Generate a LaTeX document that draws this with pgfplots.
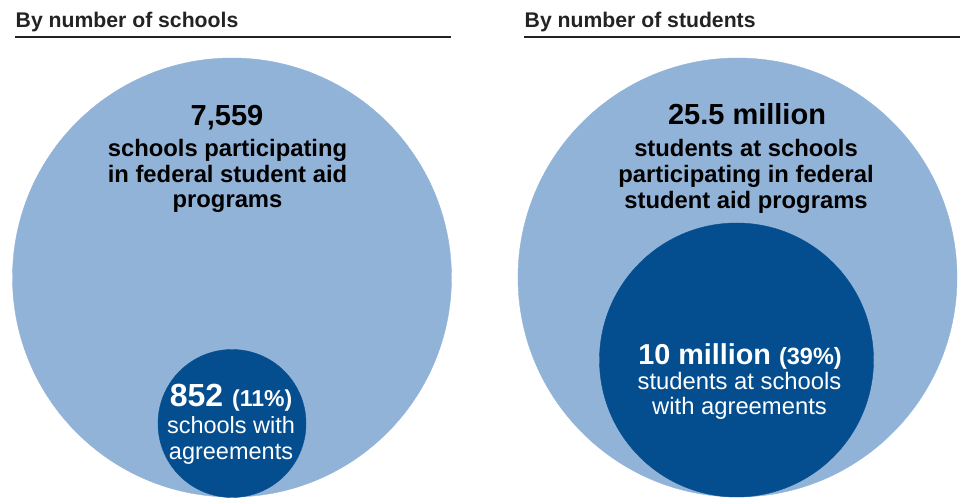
\documentclass[border=0pt]{standalone}
\usepackage{pgfplots}
\pgfplotsset{compat=1.18}
\usepackage{fontspec}
\setmainfont{Liberation Sans}

\definecolor{lightblue}{RGB}{146,179,216}
\definecolor{darkblue}{RGB}{4,78,143}
\definecolor{titlegray}{RGB}{35,35,35}

% circles: centre (x,y) and radius r, in px (y measured from the top)
\pgfplotstableread{
x     y      r
232   277.5  219.5
737.5 277.5  219.5
}\totals
\pgfplotstableread{
x     y      r
232   423.5  74
736.5 360    137
}\subsets

\newcommand\fs[1]{\fontsize{#1}{#1}\selectfont}

\begin{document}
\begin{tikzpicture}
\begin{axis}[
    width=965pt, height=500pt, scale only axis,
    xmin=0, xmax=965, ymin=0, ymax=500,
    y dir=reverse,
    hide axis, clip=false, set layers,
    circle plot/.style={
        scatter, only marks, mark=*,
        scatter/use mapped color={draw=#1, fill=#1},
        visualization depends on={\thisrow{r}\as\rad},
        scatter/@pre marker code/.append style={/tikz/mark size=\rad pt, /tikz/line width=0.1pt},
    },
]
% keep the whole 965x500 frame in the picture
\path (rel axis cs:0,0) rectangle (rel axis cs:1,1);

\addplot[circle plot=lightblue] table[x=x, y=y] {\totals};
\addplot[circle plot=darkblue] table[x=x, y=y] {\subsets};

% title rules
\addplot[titlegray, line width=1.2pt] coordinates {(15,37) (451,37)};
\addplot[titlegray, line width=1.2pt] coordinates {(524,37) (960,37)};

\begin{pgfonlayer}{axis foreground}
% titles
\node[anchor=base west, font=\bfseries\fs{21.2}, text=titlegray, inner sep=0pt]
    at (axis cs:15.5,28) {By number of schools};
\node[anchor=base west, font=\bfseries\fs{21.2}, text=titlegray, inner sep=0pt]
    at (axis cs:524.5,28) {By number of students};

% left panel
\node[anchor=base, font=\bfseries\fs{29}, inner sep=0pt] at (axis cs:227,126) {7,559};
\node[anchor=base, font=\bfseries\fs{23.8}, inner sep=0pt] at (axis cs:227.5,157) {schools participating};
\node[anchor=base, font=\bfseries\fs{23.8}, inner sep=0pt] at (axis cs:227.5,183) {in federal student aid};
\node[anchor=base, font=\bfseries\fs{23.8}, inner sep=0pt] at (axis cs:227.5,208) {programs};

\node[anchor=base, text=white, inner sep=0pt] at (axis cs:231,407)
    {\bfseries\fs{32}852 \fs{23}(11\%)};
\node[anchor=base, text=white, font=\fs{23.5}, inner sep=0pt] at (axis cs:231,434) {schools with};
\node[anchor=base, text=white, font=\fs{23.5}, inner sep=0pt] at (axis cs:231,459) {agreements};

% right panel
\node[anchor=base, font=\bfseries\fs{29}, inner sep=0pt] at (axis cs:747,125) {25.5 million};
\node[anchor=base, font=\bfseries\fs{23.8}, inner sep=0pt] at (axis cs:746,157) {students at schools};
\node[anchor=base, font=\bfseries\fs{23.8}, inner sep=0pt] at (axis cs:746,183) {participating in federal};
\node[anchor=base, font=\bfseries\fs{23.8}, inner sep=0pt] at (axis cs:746,209) {student aid programs};

\node[anchor=base, text=white, inner sep=0pt] at (axis cs:740,365)
    {\bfseries\fs{28.8}10 million \fs{23.5}(39\%)};
\node[anchor=base, text=white, font=\fs{23.8}, inner sep=0pt] at (axis cs:739.5,390) {students at schools};
\node[anchor=base, text=white, font=\fs{23.8}, inner sep=0pt] at (axis cs:739.5,415) {with agreements};
\end{pgfonlayer}
\end{axis}
\end{tikzpicture}
\end{document}
